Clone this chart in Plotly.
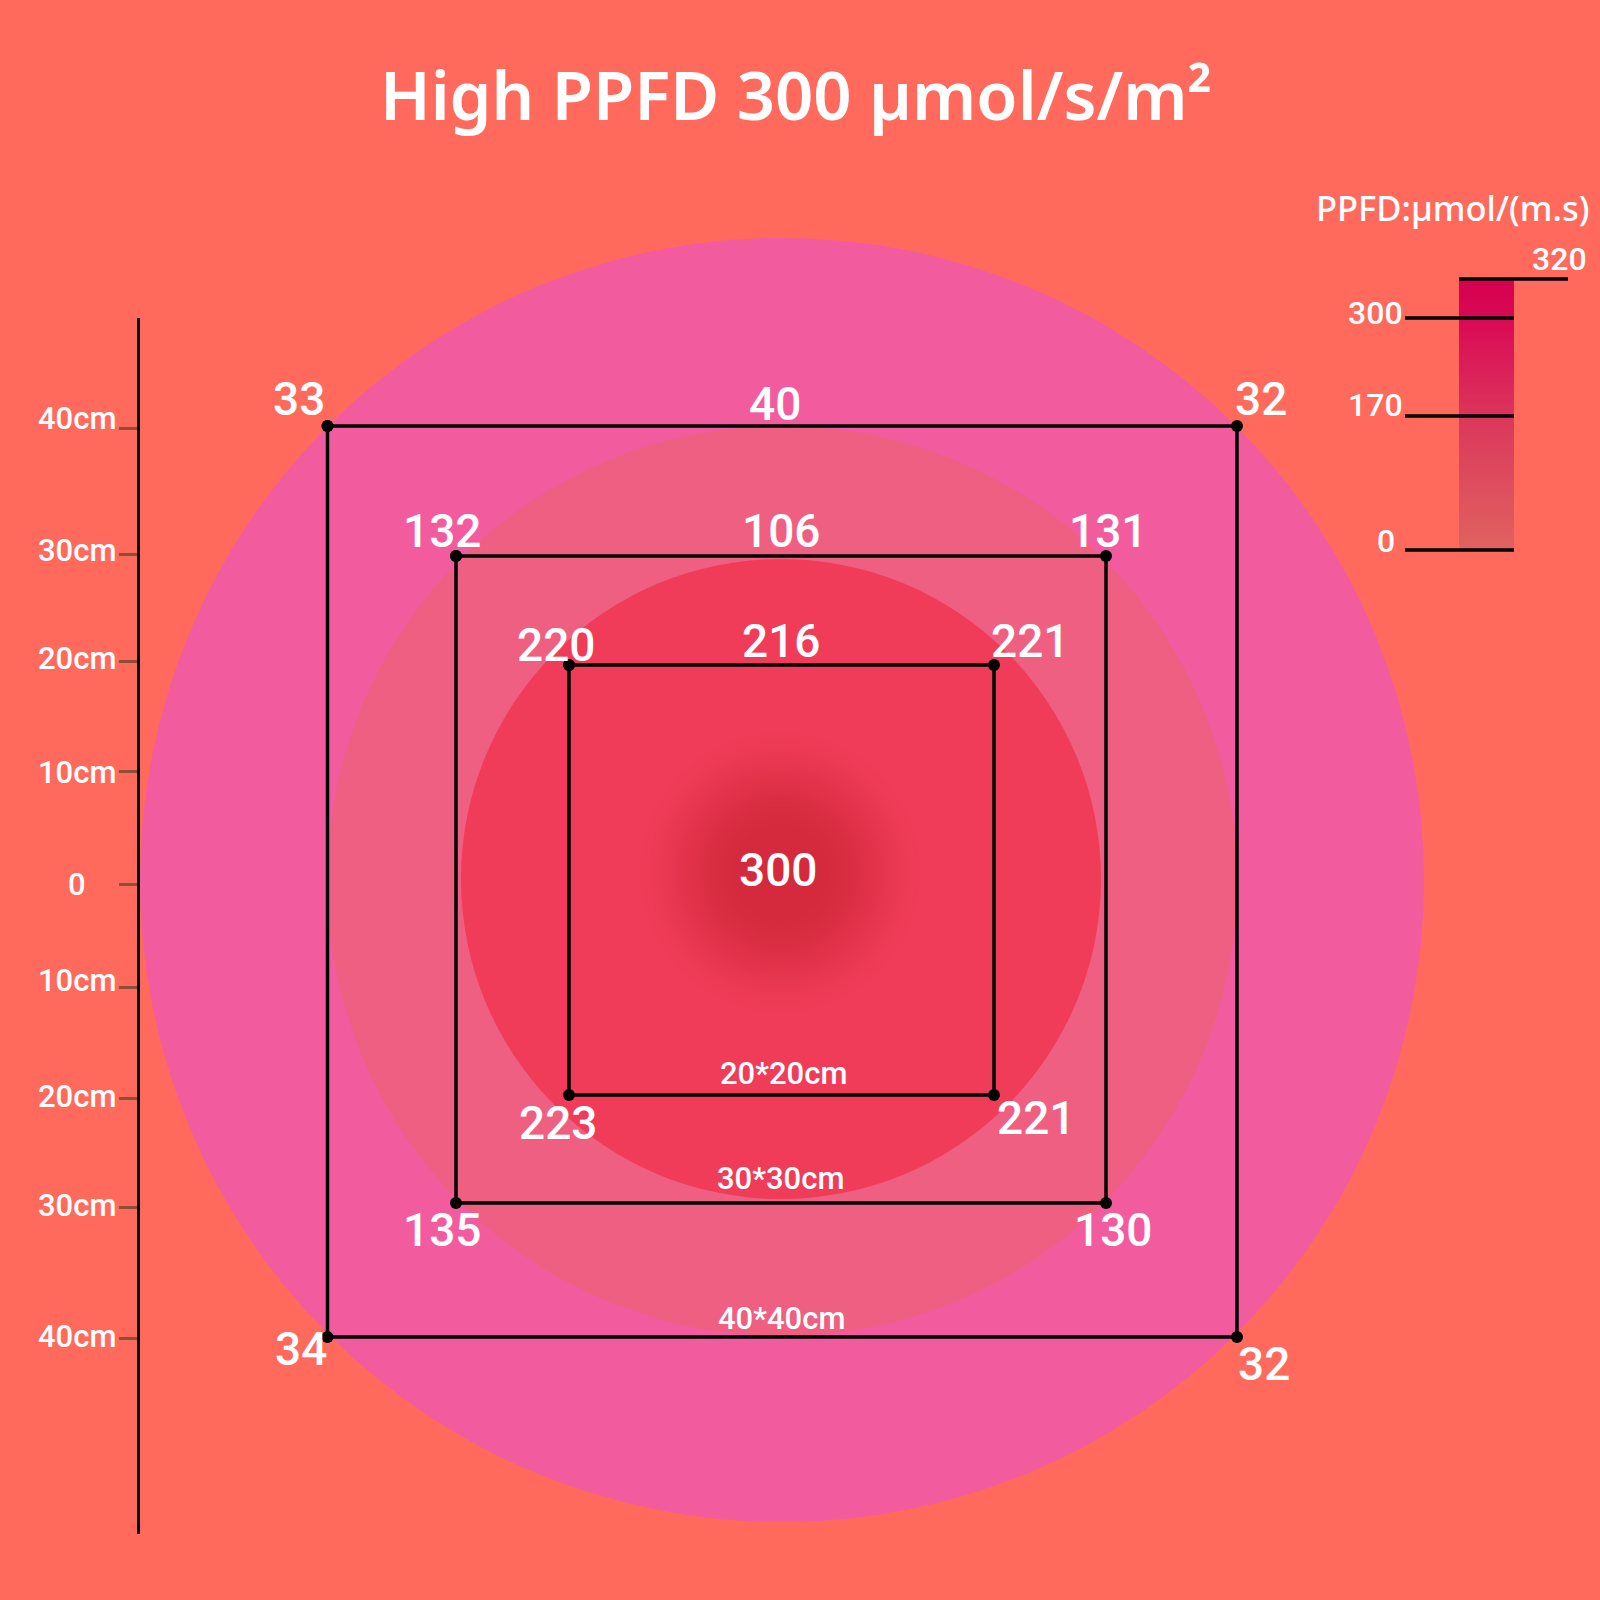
import numpy as np
import plotly.graph_objects as go

# ---------------- data ----------------
title_text = "High PPFD 300 µmol/s/m²"
legend_title = "PPFD:µmol/(m.s)"
square_sizes = ["20*20cm", "30*30cm", "40*40cm"]
# readings per square: top-left, top-centre, top-right, bottom-left, bottom-right
readings_20 = [220, 216, 221, 223, 221]
readings_30 = [132, 106, 131, 135, 130]
readings_40 = [33, 40, 32, 34, 32]
centre_reading = 300
axis_labels = ["40cm", "30cm", "20cm", "10cm", "0", "10cm", "20cm", "30cm", "40cm"]
legend_values = [320, 300, 170, 0]

# ---------------- layout positions (pixel-like drawing units) ----------------
sq_left = [569, 456, 327.5]
sq_right = [994, 1106, 1237]
sq_top = [665, 556, 426]
sq_bottom = [1095, 1203, 1337]
# label positions for readings [TL, TC, TR, BL, BR] per square
lab_x = [[556, 781, 1030, 558, 1036],
         [442, 781, 1108, 442, 1113],
         [299, 775, 1261, 301, 1264]]
lab_y = [[645, 641, 641, 1123, 1118],
         [531, 531, 531, 1230, 1230],
         [399, 404, 399, 1349, 1364]]
size_lab_y = [1073, 1178, 1318]
size_lab_x = [783, 780, 781]
centre_xy = (778, 870)

circle_cx = [782, 782, 781]
circle_cy = [880, 881, 879]
circle_r = [642, 455, 320]
circle_col = ["#F25C9E", "#EE5F82", "#F03C58"]

axis_x = 138
axis_y0, axis_y1 = 318, 1534
axis_tick_y = [428.6, 554, 661, 771, 884, 987, 1098, 1207, 1338]
axis_label_y = [418, 550, 658, 772, 884, 980, 1096, 1205, 1336]
axis_label_x = 77

leg_bar_x = [1459, 1514]
leg_bar_y = [279, 550]
leg_line_y = [279, 318, 416, 550]
leg_line_x0 = [1459, 1405, 1405, 1405]
leg_line_x1 = [1568, 1514, 1514, 1514]
leg_lab_x = [1589, 1405, 1405, 1386]
leg_lab_y = [259, 313, 405, 541]
leg_lab_anchor = ["right", "right", "right", "center"]

BG = "#FF6A5C"
WHITE = "white"
NUM_FONT = "Roboto, DejaVu Sans Condensed, sans-serif"

fig = go.Figure()

# centre radial glow (style gradient inside the 20*20 zone)
gx = np.linspace(620, 940, 129)
gy = np.linspace(712, 1032, 129)
GX, GY = np.meshgrid(gx, gy)
R = np.hypot(GX - centre_xy[0] - 2, GY - centre_xy[1] - 2)
t = np.clip((R - 40) / (150 - 40), 0, 1)
glow = 1 - (t * t * (3 - 2 * t))
fig.add_trace(go.Heatmap(x=gx, y=gy, z=glow, zmin=0, zmax=1, zsmooth="best",
                         colorscale=[[0, "#F03C58"], [1, "#D52A3E"]],
                         showscale=False, hoverinfo="skip"))

# legend gradient bar
nrows = 136
edges = np.linspace(leg_bar_y[0], leg_bar_y[1], nrows + 1)
ramp = np.linspace(1, 0, nrows).reshape(-1, 1)
fig.add_trace(go.Heatmap(x=leg_bar_x, y=edges, z=ramp, zmin=0, zmax=1,
                         colorscale=[[0, "#E0625F"], [0.45, "#DC3A5C"], [0.85, "#D90A55"], [1, "#D6004F"]],
                         showscale=False, hoverinfo="skip"))

# squares with corner dots
for i in range(3):
    xs = [sq_left[i], sq_right[i], sq_right[i], sq_left[i], sq_left[i]]
    ys = [sq_top[i], sq_top[i], sq_bottom[i], sq_bottom[i], sq_top[i]]
    fig.add_trace(go.Scatter(x=xs, y=ys, mode="lines+markers",
                             line=dict(color="black", width=3.5),
                             marker=dict(color="black", size=12),
                             hoverinfo="skip", showlegend=False))

# dummy trace for the left scale axis
fig.add_trace(go.Scatter(x=[0], y=[axis_y0], xaxis="x2", yaxis="y2", mode="markers",
                         marker=dict(opacity=0), hoverinfo="skip", showlegend=False))

shapes = []
for cx, cy, r, c in zip(circle_cx, circle_cy, circle_r, circle_col):
    shapes.append(dict(type="circle", xref="x", yref="y", x0=cx - r, x1=cx + r,
                       y0=cy - r, y1=cy + r, fillcolor=c, line=dict(width=0), layer="below"))
for y, x0, x1 in zip(leg_line_y, leg_line_x0, leg_line_x1):
    shapes.append(dict(type="line", xref="x", yref="y", x0=x0, x1=x1, y0=y, y1=y,
                       line=dict(color="black", width=3.5), layer="above"))

ann = []
ann.append(dict(text=title_text, x=796, y=94, xref="x", yref="y", showarrow=False,
                xanchor="center", yanchor="middle",
                font=dict(family="Noto Sans, sans-serif", size=67, color=WHITE, weight=600)))
ann.append(dict(text=legend_title, x=1591, y=207, xref="x", yref="y", showarrow=False,
                xanchor="right", yanchor="middle",
                font=dict(family="Noto Sans, sans-serif", size=34.5, color=WHITE, weight=500)))
for v, x, y, a in zip(legend_values, leg_lab_x, leg_lab_y, leg_lab_anchor):
    ann.append(dict(text=str(v), x=x, y=y, xref="x", yref="y", showarrow=False,
                    xanchor=a, yanchor="middle",
                    font=dict(family="Roboto, DejaVu Sans, sans-serif", size=32, color=WHITE, weight=500)))
all_readings = [readings_20, readings_30, readings_40]
for i in range(3):
    for v, x, y in zip(all_readings[i], lab_x[i], lab_y[i]):
        ann.append(dict(text=str(v), x=x, y=y, xref="x", yref="y", showarrow=False,
                        xanchor="center", yanchor="middle",
                        font=dict(family=NUM_FONT, size=46, color=WHITE, weight=500)))
    ann.append(dict(text=square_sizes[i], x=size_lab_x[i], y=size_lab_y[i], xref="x", yref="y",
                    showarrow=False, xanchor="center", yanchor="middle",
                    font=dict(family=NUM_FONT, size=31, color=WHITE, weight=500)))
ann.append(dict(text=str(centre_reading), x=centre_xy[0], y=centre_xy[1], xref="x", yref="y",
                showarrow=False, xanchor="center", yanchor="middle",
                font=dict(family=NUM_FONT, size=46, color=WHITE, weight=500)))
for lab, y in zip(axis_labels, axis_label_y):
    ann.append(dict(text=lab, x=axis_label_x, y=y, xref="x", yref="y", showarrow=False,
                    xanchor="center", yanchor="middle",
                    font=dict(family="Roboto, DejaVu Sans, sans-serif", size=31, color=WHITE, weight=500)))

fig.update_layout(
    width=1600, height=1600, margin=dict(l=0, r=0, t=0, b=0),
    paper_bgcolor=BG, plot_bgcolor="rgba(0,0,0,0)", showlegend=False,
    xaxis=dict(range=[0, 1600], domain=[0, 1], visible=False, fixedrange=True),
    yaxis=dict(range=[1600, 0], domain=[0, 1], visible=False, fixedrange=True),
    xaxis2=dict(range=[0, 1600], domain=[0, 1], visible=False, anchor="y2"),
    yaxis2=dict(range=[axis_y1, axis_y0], domain=[1 - axis_y1 / 1600, 1 - axis_y0 / 1600],
                anchor="free", position=axis_x / 1600, side="left",
                showline=True, linecolor="black", linewidth=3,
                ticks="outside", ticklen=18, tickwidth=2.5, tickcolor="#8E4E33",
                tickvals=axis_tick_y, showticklabels=False,
                showgrid=False, zeroline=False),
    shapes=shapes, annotations=ann,
)

fig.write_html("out.html")
